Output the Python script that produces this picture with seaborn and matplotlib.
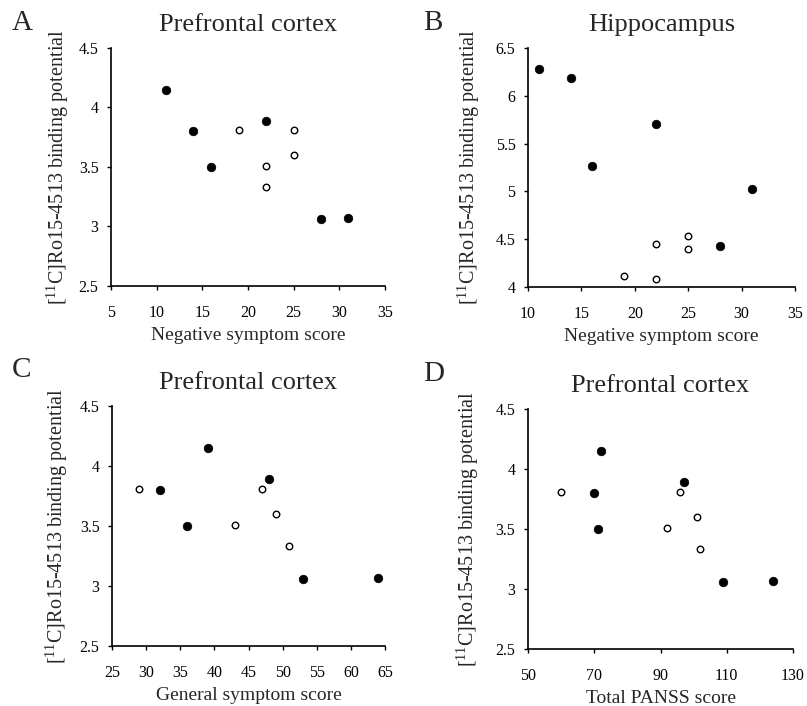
import numpy as np
import pandas as pd
import matplotlib
matplotlib.use("Agg")
import matplotlib.pyplot as plt
import seaborn as sns

# ---- data ----
# filled = one patient group, open = the other
neg_filled = [11, 14, 16, 22, 28, 31]
neg_open = [19, 22, 22, 25, 25]
gen_filled = [32, 36, 39, 48, 53, 64]
gen_open = [29, 43, 47, 49, 51]
tot_filled = [70, 71, 72, 97, 109, 124]
tot_open = [60, 92, 96, 101, 102]

pfc_filled_negorder = [4.15, 3.80, 3.50, 3.89, 3.06, 3.07]
pfc_open_negorder = [3.81, 3.51, 3.33, 3.81, 3.60]
hip_filled = [6.28, 6.19, 5.27, 5.71, 4.43, 5.03]
hip_open = [4.11, 4.45, 4.08, 4.53, 4.40]
pfc_filled_genorder = [3.80, 3.50, 4.15, 3.89, 3.06, 3.07]
pfc_open_genorder = [3.81, 3.51, 3.81, 3.60, 3.33]
pfc_filled_totorder = [3.80, 3.50, 4.15, 3.89, 3.06, 3.07]
pfc_open_totorder = [3.81, 3.51, 3.81, 3.60, 3.33]

sns.set_style("ticks")
plt.rcParams["font.family"] = ["Liberation Serif", "DejaVu Serif"]
plt.rcParams["mathtext.fontset"] = "custom"
plt.rcParams["mathtext.rm"] = "Liberation Serif"
plt.rcParams["mathtext.it"] = "Liberation Serif:italic"

W, H = 807, 706
fig = plt.figure(figsize=(W / 100, H / 100), dpi=100)

ylab = r"[$^{\mathrm{11}}$C]Ro15-4513 binding potential"

# pixel boxes (left, top, right, bottom) of each plot area
panels = [
    ("A", (111, 48, 385, 286), (12, 30), -53, "Prefrontal cortex", "Negative symptom score",
     neg_filled, pfc_filled_negorder, neg_open, pfc_open_negorder,
     (5, 35), np.arange(5, 36, 5), (2.5, 4.5), np.arange(2.5, 4.51, 0.5)),
    ("B", (528, 48, 795, 287), (423, 30), -59, "Hippocampus", "Negative symptom score",
     neg_filled, hip_filled, neg_open, hip_open,
     (10, 35), np.arange(10, 36, 5), (4, 6.5), np.arange(4, 6.51, 0.5)),
    ("C", (112, 406, 385, 646), (12, 377), -55, "Prefrontal cortex", "General symptom score",
     gen_filled, pfc_filled_genorder, gen_open, pfc_open_genorder,
     (25, 65), np.arange(25, 66, 5), (2.5, 4.5), np.arange(2.5, 4.51, 0.5)),
    ("D", (528, 409, 793, 649), (423, 381), -60, "Prefrontal cortex", "Total PANSS score",
     tot_filled, pfc_filled_totorder, tot_open, pfc_open_totorder,
     (50, 130), np.arange(50, 131, 20), (2.5, 4.5), np.arange(2.5, 4.51, 0.5)),
]

for (letter, box, lpos, yoff, title, xlabel, xf, yf, xo, yo,
     xlim, xticks, ylim, yticks) in panels:
    l, t, r, b = box
    ax = fig.add_axes([l / W, 1 - b / H, (r - l) / W, (b - t) / H])
    df_f = pd.DataFrame({"x": xf, "y": yf})
    df_o = pd.DataFrame({"x": xo, "y": yo})
    sns.scatterplot(data=df_f, x="x", y="y", ax=ax, color="black", s=38,
                    edgecolor="black", linewidth=0.5, clip_on=False, zorder=3)
    sns.scatterplot(data=df_o, x="x", y="y", ax=ax, facecolor="white", s=22,
                    edgecolor="black", linewidth=1.0, clip_on=False, zorder=3)
    ax.set_xlim(*xlim)
    ax.set_ylim(*ylim)
    ax.set_xticks(xticks)
    ax.set_yticks(yticks)
    ax.set_yticklabels(["%g" % v for v in yticks])
    sns.despine(ax=ax)
    for sp in ["left", "bottom"]:
        ax.spines[sp].set_linewidth(1.2)
        ax.spines[sp].set_color("black")
    ax.tick_params(direction="out", length=3, width=1, colors="black",
                   labelsize=11.5)
    ax.tick_params(axis="x", pad=11)
    ax.tick_params(axis="y", pad=6)
    ax.set_xlabel(xlabel, fontsize=14, labelpad=4)
    ax.set_ylabel(ylab, fontsize=14.5)
    ax.yaxis.label.set_va("center")
    ax.yaxis.set_label_coords(yoff / (r - l), 0.5)
    ax.set_title(title, fontsize=19, pad=12)
    fig.text(lpos[0] / W, 1 - lpos[1] / H, letter, fontsize=21,
             ha="left", va="baseline")

fig.savefig("out.png", dpi=100)
